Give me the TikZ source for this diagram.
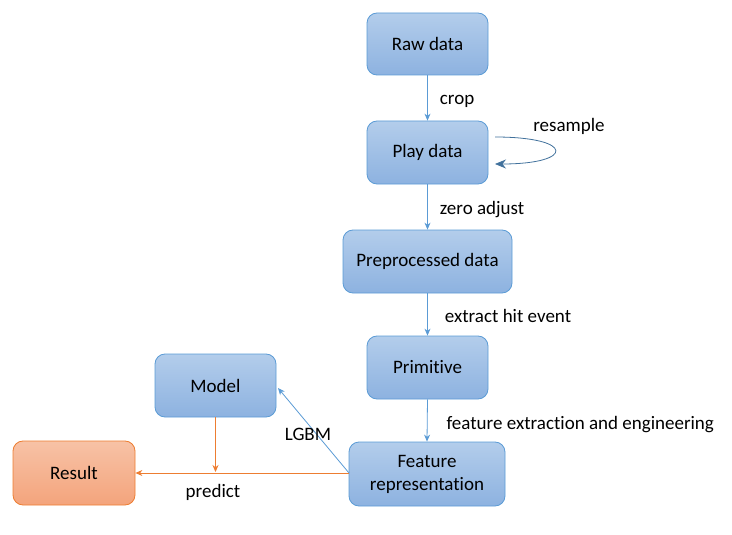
\documentclass[tikz,border=0pt]{standalone}
\usepackage{fontspec}
\setmainfont{Carlito}[Ligatures={NoCommon}]
\usetikzlibrary{arrows.meta}
\definecolor{bTop}{HTML}{B3CDEB}
\definecolor{bBot}{HTML}{8DB2E0}
\definecolor{bLine}{HTML}{5B9BD5}
\definecolor{oTop}{HTML}{F7C2A6}
\definecolor{oBot}{HTML}{F4A47C}
\definecolor{oLine}{HTML}{ED7D31}
\definecolor{aBlue}{HTML}{5B9BD5}
\definecolor{aDark}{HTML}{41719C}
\tikzset{
  bluebox/.style={draw=bLine, line width=0.8pt, rounded corners=10pt, top color=bTop, bottom color=bBot, align=center, font=\fontsize{19}{23}\selectfont, inner sep=0pt},
  orangebox/.style={draw=oLine, line width=0.8pt, rounded corners=10pt, top color=oTop, bottom color=oBot, align=center, font=\fontsize{19}{23}\selectfont, inner sep=0pt},
  blueflow/.style={draw=aBlue, line width=0.8pt, -{Stealth[length=7pt,width=6pt]}},
  orangeflow/.style={draw=oLine, line width=0.8pt, -{Stealth[length=7pt,width=6pt]}},
  lbl/.style={font=\fontsize{19}{22}\selectfont, inner sep=0pt}
}
\begin{document}
\begin{tikzpicture}[x=1pt,y=-1pt]
\useasboundingbox (0,0) rectangle (732,535);
\node[bluebox, minimum width=121pt, minimum height=62pt] (raw) at (427.5,44) {Raw data};
\node[bluebox, minimum width=121pt, minimum height=63pt] (play) at (427.5,152.5) {Play data};
\node[bluebox, minimum width=169pt, minimum height=63pt] (pre) at (427.5,261.5) {Preprocessed data};
\node[bluebox, minimum width=121pt, minimum height=63pt] (prim) at (427.5,367.5) {Primitive};
\node[bluebox, minimum width=156pt, minimum height=64pt] (feat) at (427,474) {Feature\\representation};
\node[bluebox, minimum width=121pt, minimum height=63pt] (model) at (215.5,385.5) {Model};
\node[orangebox, minimum width=122pt, minimum height=64pt] (res) at (74,473) {Result};

\draw[blueflow] (raw.south) -- (play.north) node[lbl, pos=0.5, anchor=west, xshift=12pt, yshift=-3pt] {crop};
\draw[blueflow] (play.south) -- (pre.north) node[lbl, pos=0.5, anchor=west, xshift=12pt, yshift=-3pt] {zero adjust};
\draw[blueflow] (pre.south) -- (prim.north) node[lbl, pos=0.5, anchor=west, xshift=17pt, yshift=-1pt] {extract hit event};
\draw[blueflow] (prim.south) -- (feat.north) node[lbl, pos=0.5, anchor=west, xshift=19pt, yshift=-4pt] {feature extraction and engineering};

\coordinate (loopS) at (495,137);
\coordinate (loopE) at (495,164);
\draw[draw=aDark, line width=0.8pt, -{Stealth[length=11pt,width=9pt]}] (loopS) .. controls (575,137) and (575,164) .. (loopE);
\node[lbl] (resample) at (569,126) {resample};

\coordinate (featL) at (349,473);
\coordinate (modelTip) at (278,388);
\draw[blueflow] (featL) -- (modelTip);
\node[lbl] (lgbm) at (308,434) {LGBM};

\draw[orangeflow] (featL) -- (res.east);
\coordinate (predTip) at (215.5,472);
\draw[orangeflow] (model.south) -- (predTip);
\node[lbl] (pred) at (213,492) {predict};
\end{tikzpicture}
\end{document}
